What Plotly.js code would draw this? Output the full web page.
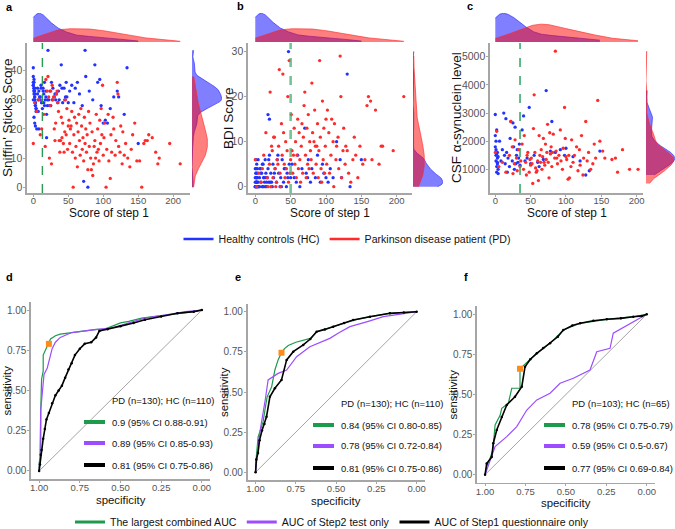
<!DOCTYPE html>
<html><head><meta charset="utf-8">
<script src="https://cdn.plot.ly/plotly-3.0.1.min.js"></script>
<style>html,body{margin:0;padding:0;background:#fff}</style>
</head><body><div id="chart" style="width:675px;height:529px"></div>
<script>
// ---------------- DATA ----------------
// Panels a/b: same subjects (HC n=110, PD n=130)
const hcStep1 = [0,0,0,0,1,1,1,1,1,2,2,2,2,2,3,3,3,3,4,4,4,0,1,2,3,1,2,0,1,2,
 5,6,7,8,9,10,11,12,13,14,15,16,17,18,19,20,6,8,10,12,14,16,18,20,7,11,15,19,
 21,22,24,25,26,28,30,32,33,35,36,38,40,42,44,45,47,48,50,23,27,31,37,41,46,
 52,55,58,60,63,66,70,72,74,75,78,80,85,88,92,95,97,100,
 103,106,110,115,120,122,130,134,150];
const hcSniffin = [41,38,36,35,34,34,33,33,32,32,31,31,30,30,29,29,28,28,27,27,26,35,24,22,21,36,33,30,37,34,
 20,32,26,33,31,30,35,29,27,34,32,28,30,33,25,30,34,20,31,29,33,36,31,28,30,34,29,17,
 47,30,33,28,36,34,31,30,32,29,33,35,42,29,34,30,36,31,29,28,30,32,30,34,31,
 33,35,29,34,36,32,28,2,47,38,0,33,30,42,36,37,28,22,
 23,22,27,31,33,31,25,41,15];
const hcBDI = [0,0,1,2,3,4,6,0,0,1,2,5,0,1,3,0,2,4,0,1,6,0,2,1,0,3,0,4,1,2,
 0,2,4,1,3,0,5,2,1,6,3,0,2,4,1,7,0,3,5,2,0,1,16,15,4,0,2,6,
 1,3,0,5,2,4,1,7,3,0,2,6,1,4,0,3,30,5,2,1,3,6,0,4,2,
 5,2,1,7,0,4,13,3,2,6,1,4,2,7,1,5,3,2,
 1,4,2,10,6,2,25,0,6];
const pdStep1 = [0,2,5,8,10,12,15,17,18,20,
 21,22,24,25,27,28,30,31,33,34,35,36,38,39,40,41,42,43,44,45,46,47,48,49,50,26,29,37,32,23,
 51,52,53,55,56,57,58,59,60,61,62,63,64,65,66,67,68,69,70,71,72,73,74,75,76,77,78,79,80,81,
 82,84,85,86,88,90,91,92,93,94,95,96,97,98,99,100,54,87,83,89,
 101,102,104,105,107,108,110,111,112,114,115,117,118,120,121,122,124,125,127,128,130,132,135,138,140,142,145,148,
 152,155,158,160,163,165,170,175,178,180,195,210];
const pdSniffin = [15,29,26,30,18,20,25,14,37,33,
 38,31,28,33,35,30,20,16,32,33,29,26,12,16,24,17,22,15,12,19,30,18,27,13,21,8,31,16,22,10,
 23,15,20,26,12,0,18,24,10,14,22,7,19,25,16,11,27,21,13,17,9,24,15,20,12,18,6,26,14,22,
 10,19,4,8,16,25,12,20,13,9,23,15,27,18,35,11,21,14,6,10,
 17,22,0,13,25,9,3,18,12,24,20,11,16,36,32,14,12,21,8,19,11,15,10,7,13,18,22,9,
 9,0,15,16,16,18,17,12,8,10,15,8];
const pdBDI = [6,0,3,1,4,7,12,2,0,5,
 21,0,8,2,11,4,1,6,9,26,3,0,7,25,12,5,2,10,4,8,20,1,28,3,6,11,0,14,5,9,
 16,8,3,13,5,10,2,7,15,4,12,6,1,9,14,3,11,18,21,7,2,13,5,16,4,10,8,6,23,12,
 3,17,9,5,14,8,28,11,4,1,19,6,13,3,9,15,7,9,10,2,
 5,17,12,3,7,15,10,0,14,6,9,11,4,29,20,2,8,13,5,9,8,3,1,6,11,7,2,9,
 5,6,18,20,19,6,17,5,9,9,8,20];
// Panel c: HC n=65, PD n=103
const hcStep1C = [0,0,1,1,1,2,2,2,3,3,3,4,4,0,1,2,3,4,
 6,8,10,12,13,14,15,16,17,18,20,21,22,24,25,26,27,28,29,30,31,32,33,34,35,
 38,40,42,45,48,50,55,60,62,68,72,78,80,85,
 92,98,100,110,120,128,133,148];
const hcSyn = [2950,2200,1700,1500,1300,1100,900,2400,1600,1400,1200,1000,850,1800,2000,1550,1250,1450,
 2000,1300,1700,3000,1500,1200,2800,1600,900,1400,1100,2100,2700,1300,2650,1800,1000,2500,1200,1500,1700,1250,1400,1900,1150,
 2400,2900,1300,1400,3200,1200,1500,1250,1100,1350,3800,1650,2700,1600,
 1700,1500,1750,1450,1300,800,950,1650];
const pdStep1C = [0,2,5,10,15,20,
 22,24,25,27,28,30,31,33,35,36,38,40,41,43,45,46,48,49,50,44,
 51,52,53,55,56,57,58,60,61,62,63,64,65,66,67,68,70,71,72,73,74,75,76,77,78,79,80,82,84,85,
 86,88,90,92,93,95,96,98,99,100,54,59,69,81,87,
 101,103,105,107,108,110,112,115,117,119,120,122,124,125,128,130,132,135,138,140,142,145,148,104,
 152,155,165,170,173,180,190,202];
const pdSyn = [1600,2350,1100,1250,900,1500,
 2700,1800,850,1200,2050,1400,950,1700,1100,1300,1900,1000,2200,1250,1500,1600,900,1350,1150,800,
 1400,1200,500,3650,1600,1050,900,1300,600,2200,1500,1250,1700,1000,1450,2100,1150,1900,1350,1600,
 2600,1250,700,2300,1550,1800,1100,2250,1400,5200,1650,1200,1500,2400,1300,1000,1750,3200,2100,1450,
 2450,950,1250,1600,1400,
 1350,650,700,1100,2050,1250,1500,1800,950,1700,1150,2200,800,1400,2700,1300,1600,1000,1200,1900,1400,3450,2000,1500,
 1650,1400,1350,1400,900,1700,1000,1000];
const cutoffs = [13, 50, 35];
const xTicks = [0,50,100,150,200];
const groupNames = ["Healthy controls (HC)", "Parkinson disease patient (PD)"];

// ROC curves (specificity, sensitivity)
const dGreenSpec = [1,1,0.99,0.99,0.985,0.975,0.975,0.96,0.94,0.93,0.9,0.87,0.8,0.73,0.65,0.6,0.55,0.5,0.45,0.37,0.3,0.2,0.12,0.05,0];
const dGreenSens = [0,0.05,0.1,0.38,0.57,0.62,0.72,0.75,0.79,0.82,0.84,0.85,0.86,0.87,0.88,0.88,0.9,0.92,0.93,0.95,0.96,0.97,0.98,0.99,1];
const dPurpleSpec = [1,0.995,0.99,0.98,0.97,0.95,0.94,0.93,0.92,0.9,0.87,0.8,0.7,0.64,0.55,0.45,0.35,0.22,0.1,0];
const dPurpleSens = [0,0.1,0.38,0.5,0.6,0.64,0.68,0.72,0.76,0.8,0.83,0.86,0.87,0.88,0.89,0.92,0.95,0.97,0.99,1];
const dBlackSpec = [1,0.995,0.99,0.985,0.975,0.965,0.955,0.94,0.92,0.9,0.88,0.86,0.84,0.82,0.8,0.78,0.75,0.72,0.68,0.65,0.63,0.58,0.5,0.42,0.35,0.25,0.15,0.05,0];
const dBlackSens = [0,0.04,0.1,0.13,0.2,0.26,0.32,0.36,0.42,0.47,0.5,0.53,0.58,0.63,0.67,0.72,0.76,0.79,0.8,0.83,0.87,0.88,0.9,0.92,0.94,0.96,0.98,0.99,1];
const eGreenSpec = [1,0.995,0.984,0.97,0.953,0.94,0.928,0.9,0.88,0.86,0.839,0.82,0.797,0.75,0.7,0.66,0.62,0.52,0.39,0.29,0.17,0];
const eGreenSens = [0,0.1,0.22,0.27,0.315,0.4,0.47,0.533,0.637,0.7,0.745,0.77,0.79,0.81,0.825,0.834,0.875,0.907,0.948,0.969,0.99,1];
const ePurpleSpec = [1,0.99,0.98,0.965,0.953,0.94,0.922,0.86,0.807,0.745,0.663,0.6,0.539,0.48,0.414,0.3,0.207,0.1,0];
const ePurpleSens = [0,0.1,0.2,0.3,0.367,0.45,0.575,0.616,0.637,0.72,0.782,0.81,0.834,0.87,0.907,0.94,0.969,0.985,1];
const eBlackSpec = [1,0.995,0.985,0.975,0.96,0.945,0.932,0.911,0.88,0.839,0.807,0.766,0.704,0.66,0.621,0.57,0.518,0.45,0.394,0.29,0.166,0.08,0];
const eBlackSens = [0,0.08,0.12,0.2,0.26,0.3,0.346,0.47,0.523,0.575,0.7,0.751,0.793,0.83,0.875,0.89,0.907,0.93,0.948,0.969,0.99,0.995,1];
const fGreenSpec = [1,0.99,0.97,0.952,0.938,0.907,0.897,0.856,0.835,0.784,0.784,0.753,0.72,0.68,0.598,0.516,0.412,0.247,0.083,0];
const fGreenSens = [0,0.05,0.1,0.154,0.31,0.37,0.414,0.445,0.539,0.539,0.661,0.69,0.72,0.757,0.819,0.902,0.944,0.969,0.985,1];
const fPurpleSpec = [1,0.969,0.938,0.866,0.804,0.742,0.68,0.598,0.536,0.454,0.351,0.309,0.227,0.207,0.103,0];
const fPurpleSens = [0,0.092,0.175,0.237,0.3,0.403,0.466,0.508,0.57,0.601,0.653,0.767,0.788,0.882,0.944,1];
const fBlackSpec = [1,0.99,0.959,0.949,0.928,0.897,0.866,0.815,0.773,0.753,0.72,0.68,0.64,0.598,0.55,0.516,0.46,0.412,0.33,0.247,0.16,0.083,0.03,0];
const fBlackSens = [0,0.07,0.11,0.196,0.279,0.36,0.435,0.486,0.549,0.673,0.72,0.757,0.79,0.819,0.86,0.902,0.93,0.944,0.96,0.969,0.975,0.985,0.99,1];
const optSpec = [0.94, 0.839, 0.784];
const optSens = [0.79, 0.745, 0.661];
const chanceSpec = [1, 0];
const chanceSens = [0, 1];
const rocTicks = [0, 0.25, 0.5, 0.75, 1];
const aucLabelsD = ["0.9 (95% CI 0.88-0.91)", "0.89 (95% CI 0.85-0.93)", "0.81 (95% CI 0.75-0.86)"];
const aucLabelsE = ["0.84 (95% CI 0.80-0.85)", "0.78 (95% CI 0.72-0.84)", "0.81 (95% CI 0.75-0.86)"];
const aucLabelsF = ["0.78 (95% CI 0.75-0.79)", "0.59 (95% CI 0.5-0.67)", "0.77 (95% CI 0.69-0.84)"];
const sampleTitles = ["PD (n=130); HC (n=110)", "PD (n=130); HC (n=110)", "PD (n=103); HC (n=65)"];
const modelNames = ["The largest combined AUC", "AUC of Step2 test only", "AUC of Step1 questionnaire only"];

// ---------------- BUILD ----------------
const W = 675, H = 529;
const FONT = 'Liberation Sans, Arial, sans-serif';
function hasFont(name) {
  const ctx = document.createElement('canvas').getContext('2d');
  const s = 'abcdefghijklmnop 0123456789 ABCDEF';
  ctx.font = '20px monospace'; const w1 = ctx.measureText(s).width;
  ctx.font = '20px "' + name + '", monospace'; const w2 = ctx.measureText(s).width;
  return Math.abs(w1 - w2) > 0.5;
}
const HAS_NARROW = hasFont('Liberation Sans Narrow');
const NFONT = HAS_NARROW ? 'Liberation Sans Narrow, Liberation Sans, Arial, sans-serif' : FONT;
const nScale = HAS_NARROW ? 1 : 0.86;

const xd = (a, b) => [a / W, b / W];
const yd = (top, bot) => [1 - bot / H, 1 - top / H];
const axName = (c, n) => c + (n === 1 ? '' : n);
const layKey = (c, n) => c + 'axis' + (n === 1 ? '' : n);

const HC_COL = '#2233ff', PD_COL = '#ff2b2b';
const HC_FILL = 'rgba(0,0,255,0.5)', PD_FILL = 'rgba(255,0,0,0.5)';
const GREEN = '#1e9a4c', PURPLE = '#9b4dff', BLACK = '#000000';
const AXC = '#a6a6a6';

function kde(vals) {
  const n = vals.length;
  const s = [...vals].sort((a, b) => a - b);
  const mean = s.reduce((a, b) => a + b, 0) / n;
  const sd = Math.sqrt(s.reduce((a, b) => a + (b - mean) * (b - mean), 0) / (n - 1));
  const q = p => { const h = (n - 1) * p, i = Math.floor(h); const nx = i + 1 < n ? s[i + 1] : s[i]; return s[i] + (h - i) * (nx - s[i]); };
  let m = Math.min(sd, (q(0.75) - q(0.25)) / 1.34);
  if (!(m > 0)) m = sd;
  const bw = 0.9 * m * Math.pow(n, -0.2);
  const mn = s[0], mx = s[n - 1];
  const gx = [], gy = [];
  for (let k = 0; k <= 200; k++) {
    const x = mn + (mx - mn) * k / 200;
    let d = 0;
    for (const v of s) { const z = (x - v) / bw; d += Math.exp(-0.5 * z * z); }
    gx.push(x); gy.push(d / (n * bw * Math.sqrt(2 * Math.PI)));
  }
  return { gx, gy };
}

const traces = [];
const layout = {
  width: W, height: H, margin: { l: 0, r: 0, t: 0, b: 0, autoexpand: false },
  paper_bgcolor: '#fff', plot_bgcolor: 'rgba(0,0,0,0)',
  font: { family: FONT, color: '#111' },
  showlegend: true, hovermode: false,
  annotations: [], shapes: []
};

function mainAxis(domain, range, tickvals, anchor, tickformat, fs, standoff) {
  const a = {
    domain, range, tickvals, anchor, showgrid: false, zeroline: false,
    showline: true, linecolor: AXC, linewidth: 1.6, mirror: false,
    ticks: 'outside', ticklen: 2, tickwidth: 1, tickcolor: AXC,
    ticklabelstandoff: standoff,
    tickfont: { size: fs, color: '#555', family: FONT },
    fixedrange: true
  };
  if (tickformat) a.tickformat = tickformat;
  return a;
}
const hidden = (domain, range, anchor) => ({ domain, range, anchor, visible: false, fixedrange: true });
function addText(text, x, y, size, opts, fam) {
  layout.annotations.push(Object.assign({ xref: 'paper', yref: 'paper', x: x / W, y: 1 - y / H, xanchor: 'center', yanchor: 'middle',
    text, showarrow: false, font: { size, family: fam || FONT, color: '#111' } }, opts || {}));
}

const topCfg = [
  { sx: [27, 190], sy: [43, 193], mx: [192, 222], my: [13, 42], xr: [-9, 224], yr: [-2, 49.5], yt: [0, 10, 20, 30, 40],
    hx: hcStep1, hy: hcSniffin, px: pdStep1, py: pdSniffin, yTitle: "Sniffin' Sticks Score", tx: 7, cutStyle: { color: '#2b9a55', width: 1.4, dash: 'dash' } },
  { sx: [248, 412], sy: [43, 193], mx: [413, 443], my: [13, 42], xr: [-10.3, 221.6], yr: [-1.4, 31.9], yt: [0, 10, 20, 30],
    hx: hcStep1, hy: hcBDI, px: pdStep1, py: pdBDI, yTitle: 'BDI Score', tx: 228, cutStyle: { color: 'rgba(70,175,115,0.75)', width: 2.6, dash: 'dash' } },
  { sx: [490, 643], sy: [43, 193], mx: [646, 675], my: [13, 42], xr: [-7.5, 209], yr: [160, 5490], yt: [1000, 2000, 3000, 4000, 5000],
    hx: hcStep1C, hy: hcSyn, px: pdStep1C, py: pdSyn, yTitle: 'CSF α-synuclein level', tx: 456, cutStyle: { color: 'rgba(50,165,100,0.85)', width: 1.8, dash: 'dash' } }
];

topCfg.forEach((c, i) => {
  const nm = 3 * i + 1, nt = 3 * i + 2, nr = 3 * i + 3;
  layout[layKey('x', nm)] = mainAxis(xd(...c.sx), c.xr, xTicks, axName('y', nm), null, 9.5, -4);
  layout[layKey('y', nm)] = mainAxis(yd(...c.sy), c.yr, c.yt, axName('x', nm), null, 10.5, -1);
  addText('Score of step 1', (c.sx[0] + c.sx[1]) / 2, 213.5, 12.5 * (HAS_NARROW ? 1.05 : 0.95), null, NFONT);
  addText(c.yTitle, c.tx, (c.sy[0] + c.sy[1]) / 2, 13.5, { textangle: -90 });
  // scatter
  traces.push({ type: 'scatter', mode: 'markers', x: c.hx, y: c.hy, xaxis: axName('x', nm), yaxis: axName('y', nm),
    marker: { color: HC_COL, size: 3.3 }, showlegend: false, hoverinfo: 'skip' });
  traces.push({ type: 'scatter', mode: 'markers', x: c.px, y: c.py, xaxis: axName('x', nm), yaxis: axName('y', nm),
    marker: { color: PD_COL, size: 3.3 }, showlegend: false, hoverinfo: 'skip' });
  // cutoff
  layout.shapes.push({ type: 'line', xref: axName('x', nm), yref: axName('y', nm) + ' domain', x0: cutoffs[i], x1: cutoffs[i], y0: 0, y1: 1, line: c.cutStyle, layer: 'above' });
  // top marginal densities
  const th = kde(c.hx), tp = kde(c.px);
  const tmax = Math.max(...th.gy, ...tp.gy);
  layout[layKey('x', nt)] = hidden(xd(...c.sx), c.xr, axName('y', nt));
  layout[layKey('y', nt)] = hidden(yd(...c.my), [0, tmax * 1.01], axName('x', nt));
  traces.push({ type: 'scatter', mode: 'lines', x: th.gx, y: th.gy, xaxis: axName('x', nt), yaxis: axName('y', nt), fill: 'tozeroy',
    fillcolor: HC_FILL, line: { color: 'rgba(40,40,255,0.9)', width: 0.7 }, showlegend: false, hoverinfo: 'skip' });
  traces.push({ type: 'scatter', mode: 'lines', x: tp.gx, y: tp.gy, xaxis: axName('x', nt), yaxis: axName('y', nt), fill: 'tozeroy',
    fillcolor: PD_FILL, line: { color: 'rgba(255,40,40,0.9)', width: 0.7 }, showlegend: false, hoverinfo: 'skip' });
  // right marginal densities
  const rh = kde(c.hy), rp = kde(c.py);
  const rmax = Math.max(...rh.gy, ...rp.gy);
  layout[layKey('x', nr)] = hidden(xd(...c.mx), [0, rmax * 1.01], axName('y', nr));
  layout[layKey('y', nr)] = hidden(yd(...c.sy), c.yr, axName('x', nr));
  traces.push({ type: 'scatter', mode: 'lines', x: rh.gy, y: rh.gx, xaxis: axName('x', nr), yaxis: axName('y', nr), fill: 'tozerox',
    fillcolor: HC_FILL, line: { color: 'rgba(40,40,255,0.9)', width: 0.7 }, showlegend: false, hoverinfo: 'skip' });
  traces.push({ type: 'scatter', mode: 'lines', x: rp.gy, y: rp.gx, xaxis: axName('x', nr), yaxis: axName('y', nr), fill: 'tozerox',
    fillcolor: PD_FILL, line: { color: 'rgba(255,40,40,0.9)', width: 0.7 }, showlegend: false, hoverinfo: 'skip' });
});

// group legend (top)
[HC_COL, PD_COL].forEach((col, k) => {
  traces.push({ type: 'scatter', mode: 'lines', x: [null], y: [null], xaxis: 'x', yaxis: 'y', name: groupNames[k],
    line: { color: col, width: 2.5 }, legend: 'legend', hoverinfo: 'skip' });
});

// ROC panels
const rocCfg = [
  { sx: [31, 210], sy: [302, 479], g: [dGreenSpec, dGreenSens], p: [dPurpleSpec, dPurpleSens], b: [dBlackSpec, dBlackSens], labels: aucLabelsD, hx: 110, hy: 400, tx: 6, sy2: 500 },
  { sx: [247.5, 424.7], sy: [303.7, 480.3], g: [eGreenSpec, eGreenSens], p: [ePurpleSpec, ePurpleSens], b: [eBlackSpec, eBlackSens], labels: aucLabelsE, hx: 339, hy: 403, tx: 224, sy2: 501 },
  { sx: [477, 654.8], sy: [306.3, 482.7], g: [fGreenSpec, fGreenSens], p: [fPurpleSpec, fPurpleSens], b: [fBlackSpec, fBlackSens], labels: aucLabelsF, hx: 570, hy: 403, tx: 452, sy2: 503 }
];
const legendKeyCols = [GREEN, PURPLE, BLACK];
const rowOffsets = [22, 43, 65];
rocCfg.forEach((c, j) => {
  const n = 10 + j, xa = axName('x', n), ya = axName('y', n);
  layout[layKey('x', n)] = mainAxis(xd(...c.sx), [1.05, -0.05], rocTicks, ya, '.2f', 9.5, -3);
  layout[layKey('y', n)] = mainAxis(yd(...c.sy), [-0.05, 1.05], rocTicks, xa, '.2f', 10, -1);
  addText('specificity', (c.sx[0] + c.sx[1]) / 2, c.sy2, 12 * (HAS_NARROW ? 1.05 : 0.95), null, NFONT);
  addText('sensitivity', c.tx, (c.sy[0] + c.sy[1]) / 2, 12 * (HAS_NARROW ? 1.05 : 0.95), { textangle: -90 }, NFONT);
  traces.push({ type: 'scatter', mode: 'lines', x: chanceSpec, y: chanceSens, xaxis: xa, yaxis: ya, line: { color: '#666', width: 0.6 }, showlegend: false, hoverinfo: 'skip' });
  traces.push({ type: 'scatter', mode: 'lines', x: c.g[0], y: c.g[1], xaxis: xa, yaxis: ya, name: c.labels[0], line: { color: GREEN, width: 1.2 }, showlegend: false, hoverinfo: 'skip' });
  traces.push({ type: 'scatter', mode: 'lines', x: c.p[0], y: c.p[1], xaxis: xa, yaxis: ya, name: c.labels[1], line: { color: PURPLE, width: 1.2 }, showlegend: false, hoverinfo: 'skip' });
  traces.push({ type: 'scatter', mode: 'lines+markers', x: c.b[0], y: c.b[1], xaxis: xa, yaxis: ya, name: c.labels[2], line: { color: BLACK, width: 1.6 }, marker: { color: BLACK, size: 2.5 }, showlegend: false, hoverinfo: 'skip' });
  traces.push({ type: 'scatter', mode: 'markers', x: [optSpec[j]], y: [optSens[j]], xaxis: xa, yaxis: ya, marker: { color: '#ff8c1a', size: 6, symbol: 'square' }, showlegend: false, hoverinfo: 'skip' });
  // in-panel AUC key
  const fs = 11 * nScale;
  addText(sampleTitles[j], c.hx, c.hy, fs, { xanchor: 'left' }, NFONT);
  c.labels.forEach((lab, k) => {
    const yy = c.hy + rowOffsets[k];
    layout.shapes.push({ type: 'line', xref: 'paper', yref: 'paper', x0: (c.hx - 26) / W, x1: (c.hx - 5) / W, y0: 1 - yy / H, y1: 1 - yy / H,
      line: { color: legendKeyCols[k], width: 4 } });
    addText(lab, c.hx, yy, fs, { xanchor: 'left' }, NFONT);
  });
});

// model legend (bottom)
modelNames.forEach((nmTxt, k) => {
  traces.push({ type: 'scatter', mode: 'lines', x: [null], y: [null], xaxis: 'x10', yaxis: 'y10', name: nmTxt,
    line: { color: legendKeyCols[k], width: 3 }, legend: 'legend2', hoverinfo: 'skip' });
});

const legFont = { size: 11.5 * (HAS_NARROW ? 1 : 0.92), family: NFONT, color: '#111' };
layout.legend = { orientation: 'h', x: 347 / W, xanchor: 'center', y: 1 - 239 / H, yanchor: 'middle', bgcolor: 'rgba(0,0,0,0)', font: legFont };
layout.legend2 = { orientation: 'h', x: 332 / W, xanchor: 'center', y: 1 - 522 / H, yanchor: 'middle', bgcolor: 'rgba(0,0,0,0)', font: legFont };

// panel letters
const letters = [['a', 4, 7], ['b', 235, 6], ['c', 465, 6], ['d', 4, 277], ['e', 233, 277], ['f', 462, 277]];
letters.forEach(([t, x, y]) => addText('<b>' + t + '</b>', x, y, 11, { xanchor: 'left', font: { size: 11, family: FONT, color: '#000' } }));

Plotly.newPlot('chart', traces, layout, { staticPlot: true, displayModeBar: false });
</script></body></html>
